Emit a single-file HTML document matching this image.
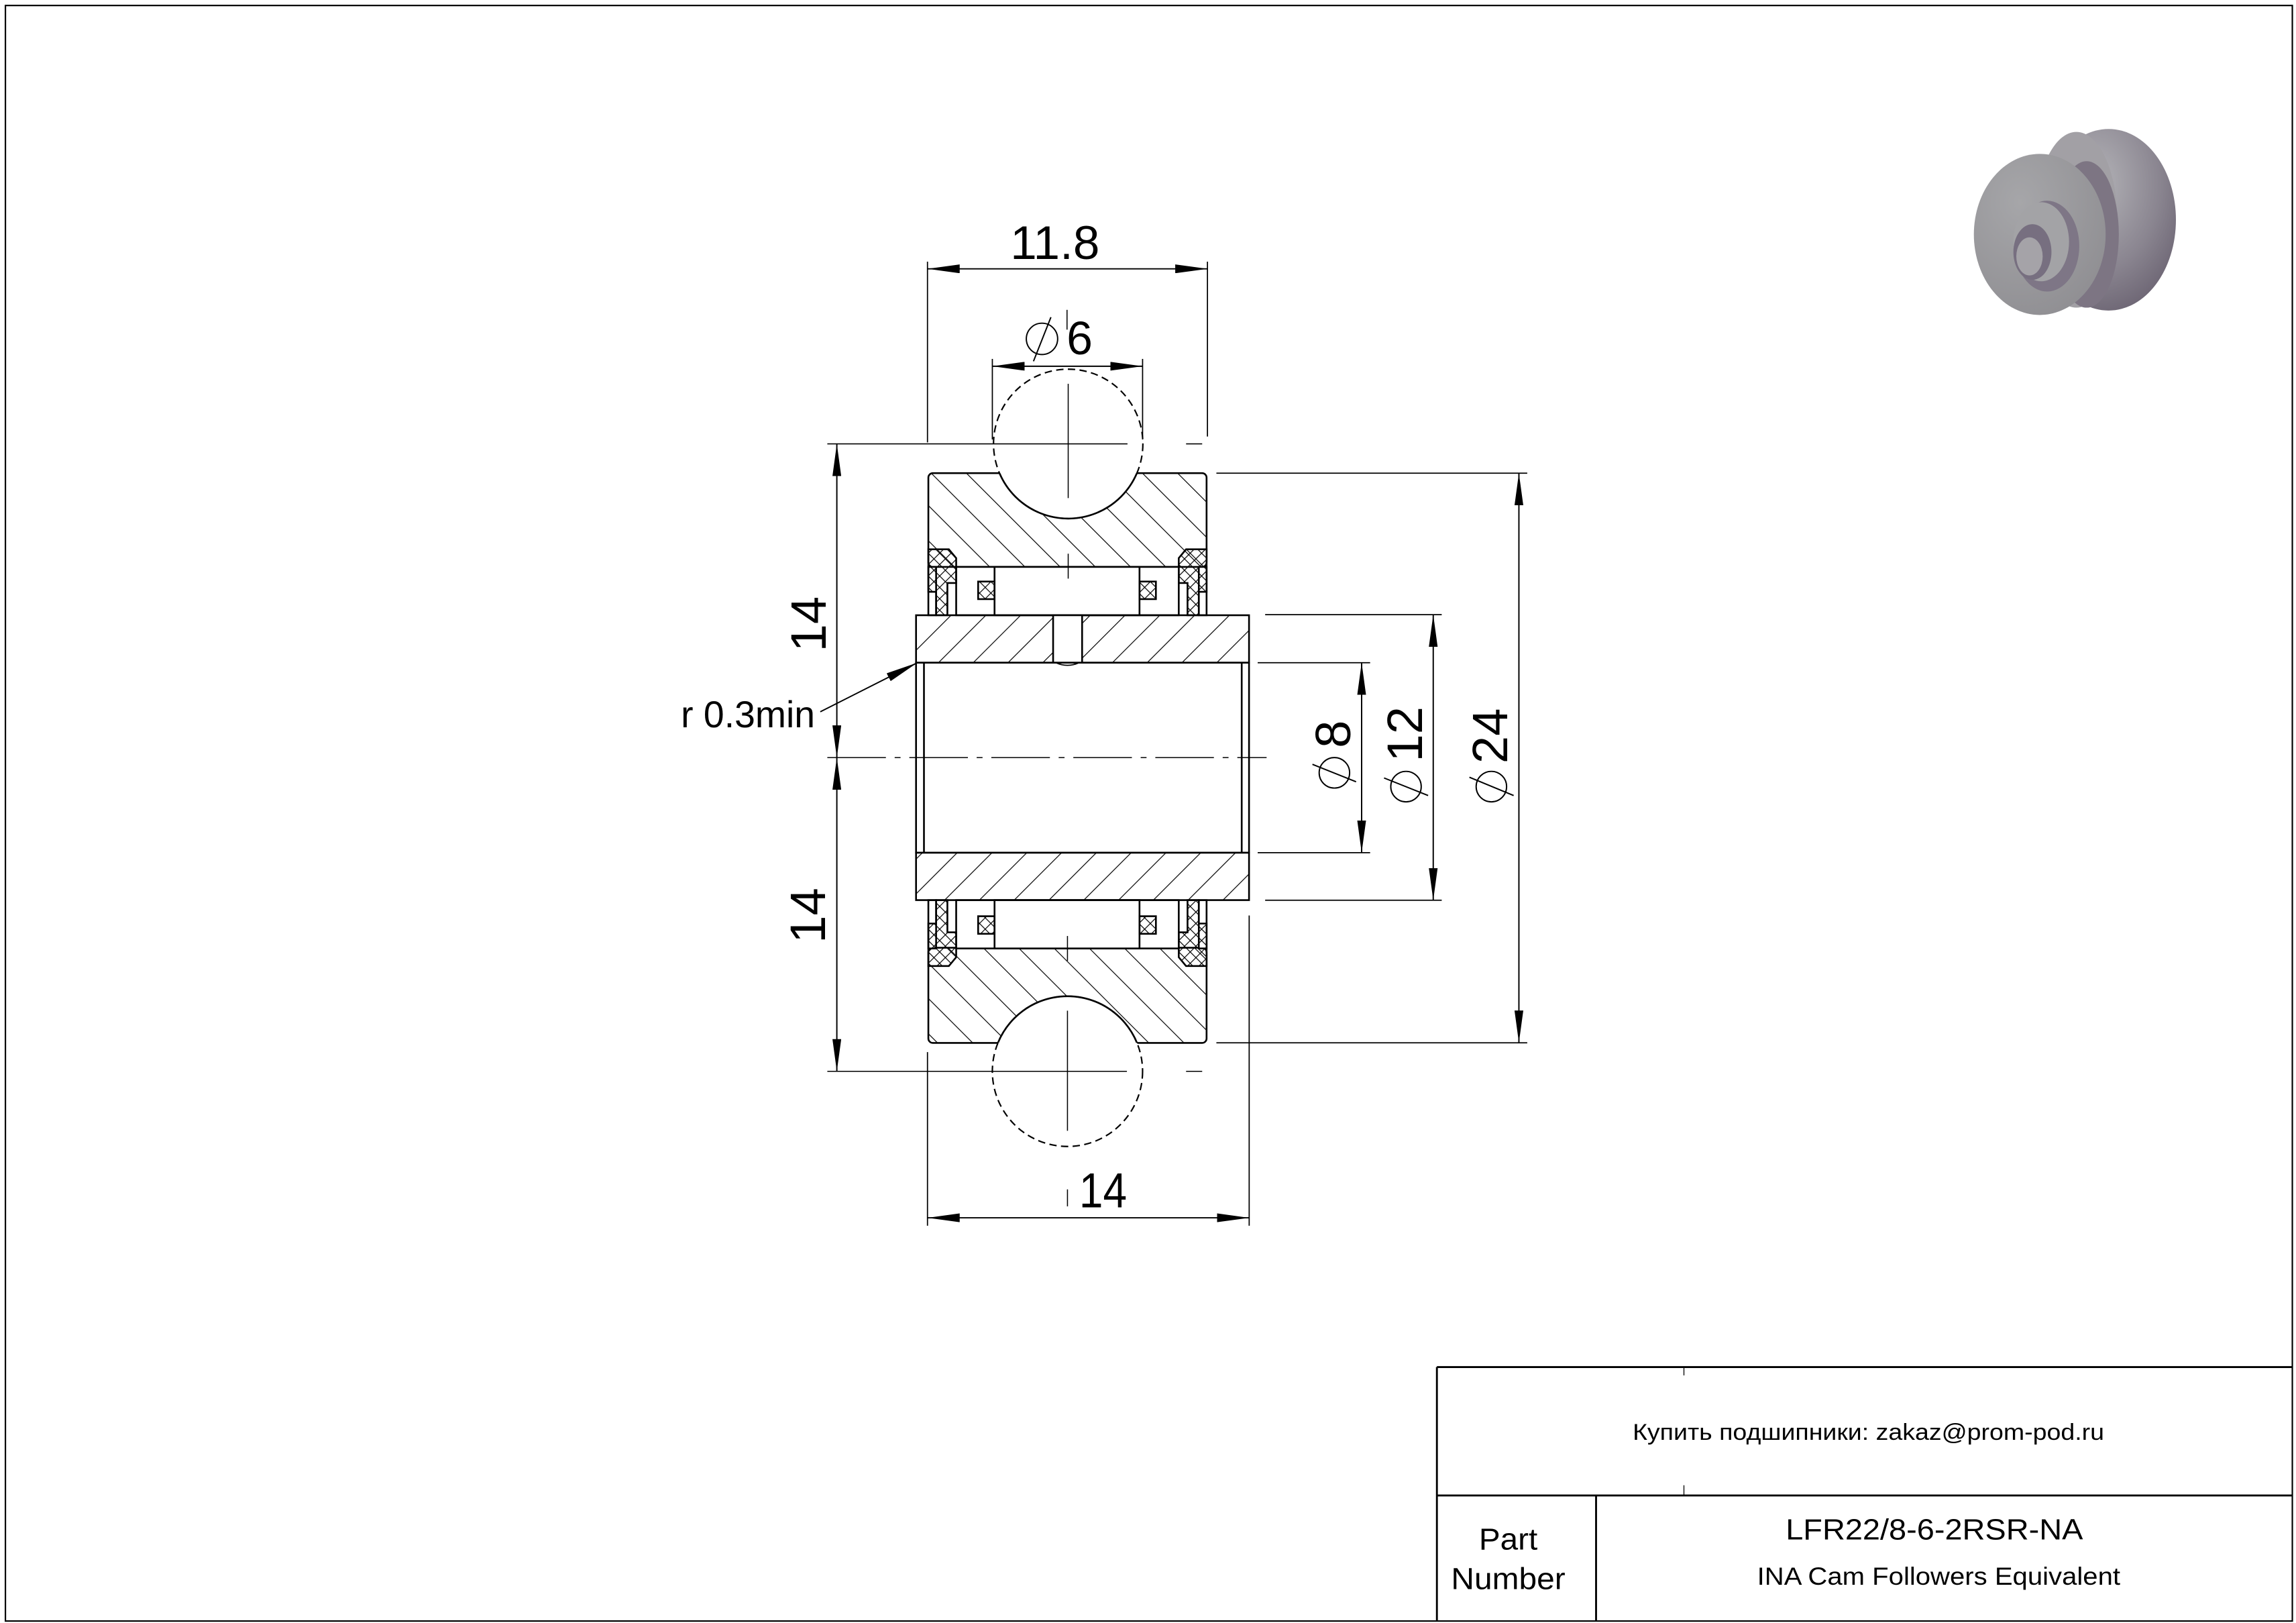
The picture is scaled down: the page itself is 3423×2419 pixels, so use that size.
<!DOCTYPE html>
<html><head><meta charset="utf-8"><style>
html,body{margin:0;padding:0;background:#fff}
svg{display:block}
text{font-family:"Liberation Sans",Arial,sans-serif;fill:#000}
</style></head><body>
<svg width="3423" height="2419" viewBox="0 0 1568 1108" xmlns="http://www.w3.org/2000/svg">
<defs>
<pattern id="hb" patternUnits="userSpaceOnUse" width="17" height="17" patternTransform="rotate(-45)">
<line x1="0" y1="0" x2="0" y2="17" stroke="#000" stroke-width="1.1"/></pattern>
<pattern id="hf" patternUnits="userSpaceOnUse" width="16.8" height="16.8" patternTransform="rotate(45)">
<line x1="0" y1="0" x2="0" y2="16.8" stroke="#000" stroke-width="1.1"/></pattern>
<pattern id="xh" patternUnits="userSpaceOnUse" width="5.5" height="5.5" patternTransform="rotate(45)">
<line x1="0" y1="0" x2="0" y2="5.5" stroke="#000" stroke-width="1.1"/><line x1="0" y1="0" x2="5.5" y2="0" stroke="#000" stroke-width="1.1"/></pattern>
<marker id="ar" viewBox="0 0 22 6" refX="22" refY="3" markerWidth="22" markerHeight="6" markerUnits="userSpaceOnUse" orient="auto-start-reverse">
<path d="M0,0 L22,3 L0,6 z" fill="#000"/></marker>
<radialGradient id="g1" cx="0.4" cy="0.3" r="0.8"><stop offset="0" stop-color="#b4b4b8"/><stop offset="0.6" stop-color="#8a8590"/><stop offset="1" stop-color="#675f6e"/></radialGradient>
<radialGradient id="g2" cx="0.35" cy="0.3" r="0.9"><stop offset="0" stop-color="#a6a6a9"/><stop offset="1" stop-color="#8c8b8f"/></radialGradient>
<clipPath id="ringTop"><rect x="634" y="323" width="190" height="64" rx="3"/></clipPath>
<clipPath id="ringBot"><rect x="634" y="647" width="190" height="65" rx="3"/></clipPath>
</defs>

<!-- frame -->
<rect x="3.7" y="3.7" width="1561.8" height="1103" fill="none" stroke="#000" stroke-width="1"/>

<!-- title block -->
<g stroke="#000" stroke-width="1.3" fill="none">
<line x1="981.3" y1="933.3" x2="1565.5" y2="933.3"/>
<line x1="981.3" y1="933.3" x2="981.3" y2="1106.7"/>
<line x1="981.3" y1="1021" x2="1565.5" y2="1021"/>
<line x1="1090" y1="1021" x2="1090" y2="1106.7"/>
<line x1="1150" y1="933.3" x2="1150" y2="939" stroke-width="0.6"/>
<line x1="1150" y1="1014" x2="1150" y2="1021" stroke-width="0.6"/>
</g>
<text x="1276" y="983" font-size="15.5" text-anchor="middle" textLength="322" lengthAdjust="spacingAndGlyphs">Купить подшипники: zakaz@prom-pod.ru</text>
<text x="1030" y="1058" font-size="21" text-anchor="middle" textLength="40" lengthAdjust="spacingAndGlyphs">Part</text>
<text x="1030" y="1085" font-size="21" text-anchor="middle" textLength="78" lengthAdjust="spacingAndGlyphs">Number</text>
<text x="1321" y="1051" font-size="20" text-anchor="middle" textLength="203" lengthAdjust="spacingAndGlyphs">LFR22/8-6-2RSR-NA</text>
<text x="1324" y="1082" font-size="17" text-anchor="middle" textLength="248" lengthAdjust="spacingAndGlyphs">INA Cam Followers Equivalent</text>

<!-- 3D thumbnail -->
<g>
<ellipse cx="1440" cy="150" rx="46" ry="62" fill="url(#g1)"/>
<ellipse cx="1418" cy="150" rx="28" ry="60" fill="#a2a0a5"/>
<ellipse cx="1425" cy="160" rx="22" ry="50" fill="#7d7583"/>
<ellipse cx="1393" cy="160" rx="45" ry="55" fill="url(#g2)"/>
<ellipse cx="1398" cy="168" rx="22" ry="31" fill="#7e7686"/>
<ellipse cx="1394" cy="165" rx="19" ry="27" fill="#a3a3a6"/>
<ellipse cx="1388" cy="172" rx="13" ry="19" fill="#776f80"/>
<ellipse cx="1386" cy="175" rx="9" ry="13" fill="#a5a3a8"/>
</g>

<!-- outer ring top & bottom -->
<g stroke="#000" stroke-width="1.2">
<rect x="634" y="323" width="190" height="64" rx="3" fill="url(#hb)"/>
<rect x="634" y="647" width="190" height="65" rx="3" fill="url(#hb)"/>
</g>
<!-- balls -->
<circle cx="729.5" cy="303" r="51" fill="#fff" stroke="#000" stroke-width="1" stroke-dasharray="5,3"/>
<circle cx="729.5" cy="303" r="51" fill="none" stroke="#000" stroke-width="1.2" clip-path="url(#ringTop)"/>
<circle cx="729" cy="731.4" r="51.3" fill="#fff" stroke="#000" stroke-width="1" stroke-dasharray="5,3"/>
<circle cx="729" cy="731.4" r="51.3" fill="none" stroke="#000" stroke-width="1.2" clip-path="url(#ringBot)"/>

<!-- cage/roller region top -->
<g stroke="#000" stroke-width="1.2">
<rect x="653" y="387" width="152" height="33" fill="#fff"/>
<rect x="679.2" y="387" width="99" height="33" fill="#fff"/>
<rect x="668" y="397" width="11.2" height="12" fill="url(#xh)"/>
<rect x="778.2" y="397" width="11.2" height="12" fill="url(#xh)"/>
<rect x="634" y="387" width="5.3" height="33" fill="#fff"/>
<path d="M634,375 L648,375 L653,381 L653,398 L647,398 L647,420 L639.3,420 L639.3,404 L634,404 Z" fill="url(#xh)"/>
<rect x="818.7" y="387" width="5.3" height="33" fill="#fff"/>
<path d="M824,375 L810,375 L805,381 L805,398 L811,398 L811,420 L818.7,420 L818.7,404 L824,404 Z" fill="url(#xh)"/>
</g>
<!-- cage/roller region bottom -->
<g stroke="#000" stroke-width="1.2">
<rect x="653" y="614.5" width="152" height="33" fill="#fff"/>
<rect x="679.2" y="614.5" width="99" height="33" fill="#fff"/>
<rect x="668" y="625.5" width="11.2" height="12" fill="url(#xh)"/>
<rect x="778.2" y="625.5" width="11.2" height="12" fill="url(#xh)"/>
<rect x="634" y="614.5" width="5.3" height="33" fill="#fff"/>
<path d="M634,659.5 L648,659.5 L653,653.5 L653,636.5 L647,636.5 L647,614.5 L639.3,614.5 L639.3,630.5 L634,630.5 Z" fill="url(#xh)"/>
<rect x="818.7" y="614.5" width="5.3" height="33" fill="#fff"/>
<path d="M824,659.5 L810,659.5 L805,653.5 L805,636.5 L811,636.5 L811,614.5 L818.7,614.5 L818.7,630.5 L824,630.5 Z" fill="url(#xh)"/>
</g>

<!-- shaft / inner ring -->
<g stroke="#000" stroke-width="1.2">
<rect x="625.6" y="420" width="227.4" height="32.4" fill="url(#hf)"/>
<rect x="719.2" y="420" width="19.8" height="32.4" fill="#fff"/>
<rect x="625.6" y="582.1" width="227.4" height="32.4" fill="url(#hf)"/>
<rect x="625.6" y="452.4" width="227.4" height="129.7" fill="#fff"/>
<line x1="631" y1="452.4" x2="631" y2="582.1"/>
<line x1="848" y1="452.4" x2="848" y2="582.1"/>
</g>
<path d="M721,452.4 Q729,456 737,452.4" fill="none" stroke="#000" stroke-width="0.8"/>

<!-- center lines -->
<g stroke="#000" stroke-width="0.7" fill="none">
<line x1="565" y1="517.2" x2="865" y2="517.2" stroke-dasharray="40,6,4,6"/>
<line x1="728.7" y1="211.5" x2="728.7" y2="225"/>
<line x1="729.5" y1="262" x2="729.5" y2="340"/>
<line x1="729.5" y1="378" x2="729.5" y2="395"/>
<line x1="729" y1="639" x2="729" y2="656"/>
<line x1="729" y1="690" x2="729" y2="772"/>
<line x1="729" y1="812" x2="729" y2="823.6"/>
<line x1="565" y1="303" x2="770" y2="303"/>
<line x1="810" y1="303" x2="821" y2="303"/>
<line x1="565" y1="731.4" x2="769.6" y2="731.4"/>
<line x1="810" y1="731.4" x2="821" y2="731.4"/>
</g>

<!-- extension lines -->
<g stroke="#000" stroke-width="0.8" fill="none">
<line x1="633.4" y1="178.6" x2="633.4" y2="302"/>
<line x1="824.6" y1="178.6" x2="824.6" y2="298"/>
<line x1="677.7" y1="245" x2="677.7" y2="300"/>
<line x1="780.3" y1="245" x2="780.3" y2="300"/>
<line x1="633.4" y1="718.3" x2="633.4" y2="836.8"/>
<line x1="853.1" y1="625" x2="853.1" y2="836.8"/>
<line x1="858.9" y1="452.4" x2="935.7" y2="452.4"/>
<line x1="858.9" y1="582.1" x2="935.7" y2="582.1"/>
<line x1="864" y1="419.6" x2="984.6" y2="419.6"/>
<line x1="864" y1="614.6" x2="984.6" y2="614.6"/>
<line x1="830.7" y1="323" x2="1043" y2="323"/>
<line x1="830.7" y1="711.9" x2="1043" y2="711.9"/>
</g>

<!-- dimension lines with arrows -->
<g stroke="#000" stroke-width="0.9" fill="none" marker-start="url(#ar)" marker-end="url(#ar)">
<line x1="633.4" y1="183.5" x2="824.6" y2="183.5"/>
<line x1="677.7" y1="250" x2="780.3" y2="250"/>
<line x1="633.4" y1="831.4" x2="853.1" y2="831.4"/>
<line x1="571.5" y1="303" x2="571.5" y2="517.2"/>
<line x1="571.5" y1="517.2" x2="571.5" y2="731.4"/>
<line x1="929.9" y1="452.4" x2="929.9" y2="582.1"/>
<line x1="978.8" y1="419.6" x2="978.8" y2="614.6"/>
<line x1="1037.3" y1="323" x2="1037.3" y2="711.9"/>
</g>
<line x1="560.2" y1="485.9" x2="626.5" y2="452.4" stroke="#000" stroke-width="0.9" marker-end="url(#ar)"/>

<!-- texts -->
<text x="720.5" y="176.8" font-size="32.5" text-anchor="middle" textLength="61" lengthAdjust="spacingAndGlyphs">11.8</text>
<circle cx="711.6" cy="231.3" r="10.7" fill="none" stroke="#000" stroke-width="0.9"/>
<line x1="705.8" y1="246.6" x2="717.7" y2="216.5" stroke="#000" stroke-width="0.9"/>
<text x="728.4" y="241.9" font-size="32">6</text>
<text x="737" y="824.2" font-size="33.6" textLength="32.6" lengthAdjust="spacingAndGlyphs">14</text>
<text x="465" y="496.6" font-size="25.5" textLength="91.6" lengthAdjust="spacingAndGlyphs">r 0.3min</text>
<text transform="translate(563.8,426) rotate(-90)" font-size="34" text-anchor="middle">14</text>
<text transform="translate(563.5,625) rotate(-90)" font-size="34" text-anchor="middle">14</text>

<text transform="translate(922.2,501.2) rotate(-90)" font-size="34" text-anchor="middle">8</text>
<circle cx="911.3" cy="527.6" r="10.4" fill="none" stroke="#000" stroke-width="0.9"/>
<line x1="896.3" y1="521.8" x2="926.1" y2="533.7" stroke="#000" stroke-width="0.9"/>

<text transform="translate(971.2,501.2) rotate(-90)" font-size="34" text-anchor="middle">12</text>
<circle cx="960.2" cy="537" r="10.4" fill="none" stroke="#000" stroke-width="0.9"/>
<line x1="945.2" y1="531.1" x2="975.3" y2="543.1" stroke="#000" stroke-width="0.9"/>

<text transform="translate(1029.2,502.4) rotate(-90)" font-size="34" text-anchor="middle">24</text>
<circle cx="1018.5" cy="537" r="10.4" fill="none" stroke="#000" stroke-width="0.9"/>
<line x1="1003.5" y1="530.6" x2="1033.7" y2="543.1" stroke="#000" stroke-width="0.9"/>
</svg>
</body></html>
